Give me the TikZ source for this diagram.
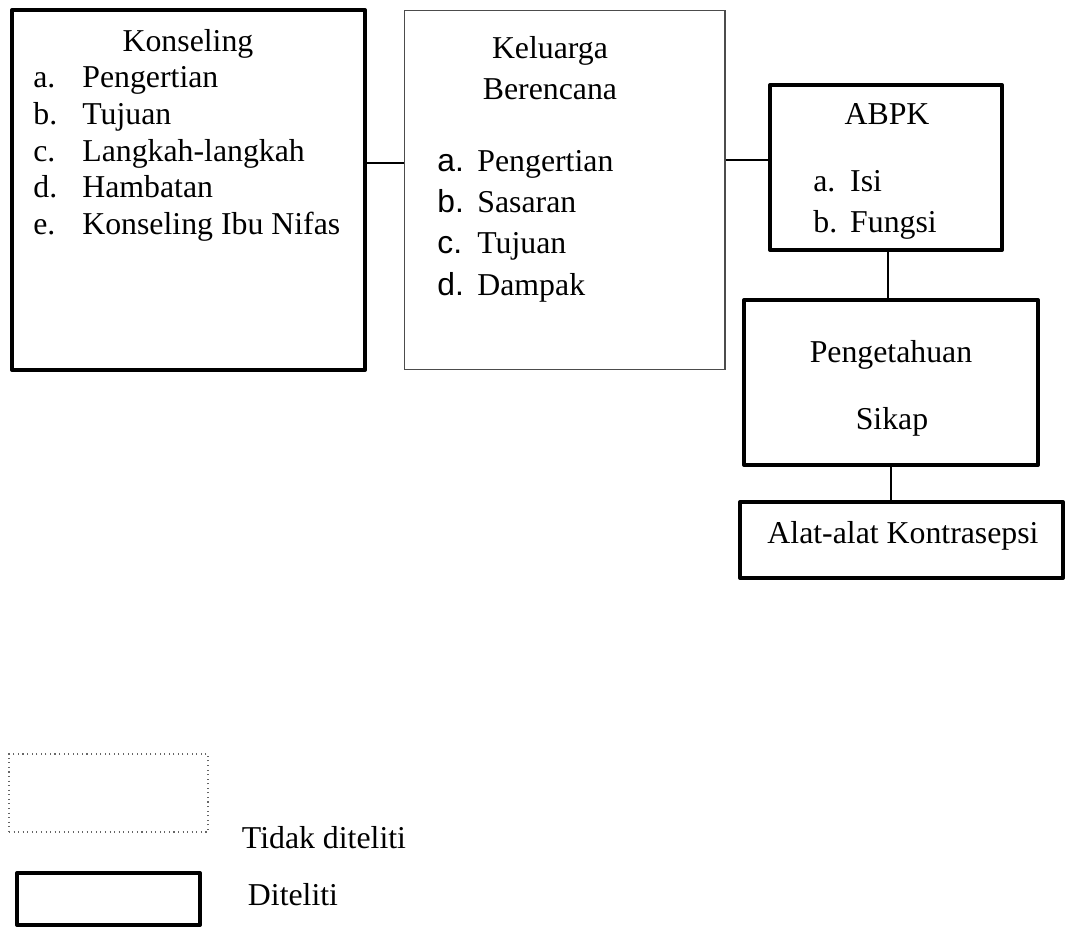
\documentclass[tikz,border=0pt]{standalone}
\usepackage{fontspec}
\setmainfont{Liberation Serif}
\newfontfamily\arialfont{Liberation Sans}
\usetikzlibrary{calc}
% lebar kolom label butir
\newcommand{\butir}[3]{\makebox[#1][l]{#2}#3}
\tikzset{
  tebal/.style={draw, line width=2.3pt, inner sep=0pt, line join=round},
  tipis/.style={draw=black!70, line width=0.6pt, inner sep=0pt},
  titik/.style={draw=black!60, line width=0.6pt, dotted, inner sep=0pt},
  teks/.style={anchor=base, inner sep=0pt, font=\fontsize{18.1}{21}\selectfont},
  daftar/.style={teks, anchor=base west},
  garis/.style={line width=0.8pt}
}
\begin{document}
\begin{tikzpicture}[x=0.02cm, y=-0.02cm]
  \useasboundingbox (0,0) rectangle (1066,929);

  % Kotak-kotak utama
  \node[tebal, minimum width=7.06cm, minimum height=7.2cm] (kons) at (188.5,190) {};
  \node[tipis, minimum width=6.42cm, minimum height=7.2cm] (kb) at (564.5,190) {};
  \node[tebal, minimum width=4.64cm, minimum height=3.3cm] (abpk) at (886,167.5) {};
  \node[tebal, minimum width=5.88cm, minimum height=3.3cm] (peng) at (891,382.5) {};
  \node[tebal, minimum width=6.46cm, minimum height=1.52cm] (alat) at (901.5,540) {};

  % Isi kotak Konseling
  \node[teks] (kons-judul) at (188,52) {Konseling};
  \node[daftar] (kons-a) at (33,88) {\butir{27.9pt}{a.}{Pengertian}};
  \node[daftar] (kons-b) at (33,125) {\butir{27.9pt}{b.}{Tujuan}};
  \node[daftar] (kons-c) at (33,162) {\butir{27.9pt}{c.}{Langkah-langkah}};
  \node[daftar] (kons-d) at (33,198) {\butir{27.9pt}{d.}{Hambatan}};
  \node[daftar] (kons-e) at (33,235) {\butir{27.9pt}{e.}{Konseling Ibu Nifas}};

  % Isi kotak Keluarga Berencana
  \node[teks] (kb-judul1) at (550,59) {Keluarga};
  \node[teks] (kb-judul2) at (550,100) {Berencana};
  \node[daftar] (kb-a) at (437,172) {\butir{22.8pt}{\arialfont a.}{Pengertian}};
  \node[daftar] (kb-b) at (437,213) {\butir{22.8pt}{\arialfont b.}{Sasaran}};
  \node[daftar] (kb-c) at (437,254) {\butir{22.8pt}{\arialfont c.}{Tujuan}};
  \node[daftar] (kb-d) at (437,296) {\butir{22.8pt}{\arialfont d.}{Dampak}};

  % Isi kotak ABPK
  \node[teks] (abpk-judul) at (887,125) {ABPK};
  \node[daftar] (abpk-a) at (813,192) {\butir{21pt}{a.}{Isi}};
  \node[daftar] (abpk-b) at (813,233) {\butir{21pt}{b.}{Fungsi}};

  % Isi kotak Pengetahuan / Sikap / Alat
  \node[teks] (peng-1) at (891,363) {Pengetahuan};
  \node[teks] (peng-2) at (892,430) {Sikap};
  \node[teks] (alat-t) at (903,543) {Alat-alat Kontrasepsi};

  % Garis penghubung
  \draw[garis] ([yshift=0.54cm]kons.east) -- ([yshift=0.54cm]kons.east -| kb.west);
  \draw[garis] ([yshift=0.6cm]kb.east) -- ([yshift=0.6cm]kb.east -| abpk.west);
  \draw[garis] ([xshift=0.04cm]abpk.south) -- ([xshift=0.04cm]abpk.south |- peng.north);
  \draw[garis] (peng.south) -- (peng.south |- alat.north);

  % Keterangan
  \node[titik, minimum width=3.98cm, minimum height=1.56cm] (ket-tidak) at (108.5,793) {};
  \node[teks] (ket-tidak-t) at (324,848) {Tidak diteliti};
  \node[tebal, minimum width=3.66cm, minimum height=1.04cm] (ket-ya) at (108.5,899) {};
  \node[teks] (ket-ya-t) at (293,905) {Diteliti};
\end{tikzpicture}
\end{document}
